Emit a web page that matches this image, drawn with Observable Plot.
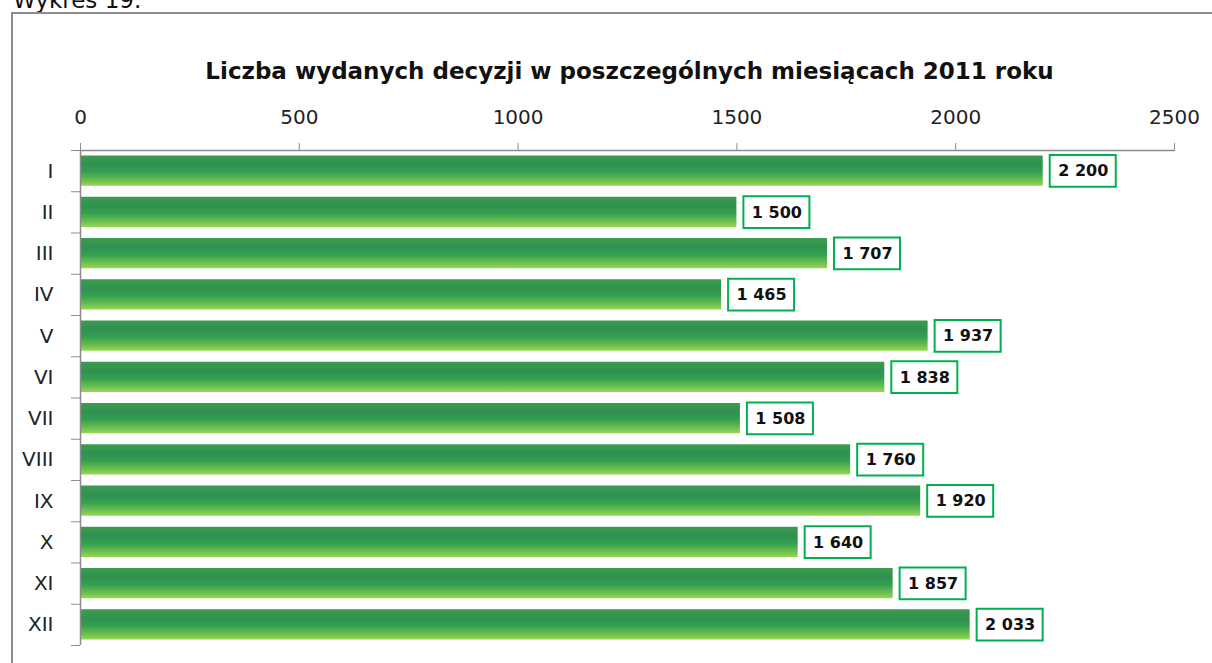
<!DOCTYPE html>
<html>
<head>
<meta charset="utf-8">
<script src="https://cdn.jsdelivr.net/npm/d3@7"></script>
<script src="https://cdn.jsdelivr.net/npm/@observablehq/plot@0.6"></script>
<style>
  html, body { margin: 0; padding: 0; background: #fff; overflow: hidden; }
  body { width: 1212px; height: 663px; position: relative; font-family: "DejaVu Sans", Verdana, sans-serif; }
  #caption { position: absolute; left: 13px; top: -11px; font-size: 23px; line-height: 23px; color: #111; white-space: nowrap; }
  #frame { position: absolute; left: 11px; top: 12px; width: 1300px; height: 800px; border-left: 2px solid #8c8c8c; border-top: 2px solid #8c8c8c; }
  #title { position: absolute; left: 0; width: 1259px; top: 57px; text-align: center; font-size: 23px; font-weight: bold; color: #111; white-space: nowrap; line-height: 28px; }
  #chart { position: absolute; left: 0; top: 0; }
</style>
</head>
<body>
<div id="caption">Wykres 19.</div>
<div id="frame"></div>
<div id="title">Liczba wydanych decyzji w poszczególnych miesiącach 2011 roku</div>
<div id="chart"></div>
<script>
const months = ["I", "II", "III", "IV", "V", "VI", "VII", "VIII", "IX", "X", "XI", "XII"];
const values = [2200, 1500, 1707, 1465, 1937, 1838, 1508, 1760, 1920, 1640, 1857, 2033];
const xTicks = [0, 500, 1000, 1500, 2000, 2500];

const data = months.map((m, i) => ({month: m, value: values[i], i}));
const fmt = d3.formatLocale({thousands: "\u00a0", grouping: [3], decimal: ","}).format(",");
const BAR = "#2f9553";

const plot = Plot.plot({
  width: 1212,
  height: 663,
  marginLeft: 80,
  marginRight: 38,
  marginTop: 150,
  marginBottom: 18,
  style: {background: "transparent", fontFamily: "DejaVu Sans, Verdana, sans-serif", color: "#222"},
  x: {domain: [0, 2500], label: null},
  y: {domain: [0, 12], reverse: true, label: null},
  marks: [
    Plot.rectX(data, {x1: 0, x2: "value", y1: "i", y2: d => d.i + 1, insetTop: 5.5, insetBottom: 5.5, fill: BAR}),
    Plot.rectX(data, {x1: "value", x2: "value", y1: "i", y2: d => d.i + 1, insetTop: 5, insetBottom: 4.5, insetLeft: 7, insetRight: -73, fill: "white", stroke: "#00b050", strokeWidth: 2}),
    Plot.text(data, {x: "value", y: d => d.i + 0.5, text: d => fmt(d.value), dx: 40, fontSize: 16, fontWeight: "bold", fill: "#111"}),
    Plot.ruleY([0], {stroke: "#8c8c8c", strokeWidth: 1.5}),
    Plot.ruleX([0], {stroke: "#8c8c8c", strokeWidth: 1.5}),
    Plot.axisX({anchor: "top", label: null, ticks: xTicks, tickSize: 8, tickPadding: 19, fontSize: 20, stroke: "#8c8c8c", fill: "#222", tickFormat: d => String(d)}),
    Plot.axisY({anchor: "left", label: null, ticks: d3.range(13), tickSize: 9, tickFormat: () => "", stroke: "#8c8c8c"}),
    Plot.axisY({anchor: "left", label: null, ticks: data.map(d => d.i + 0.5), tickSize: 0, tickPadding: 27, fontSize: 20, fill: "#222", tickFormat: v => months[Math.floor(v)]})
  ]
});

const ns = "http://www.w3.org/2000/svg";
const defs = document.createElementNS(ns, "defs");
const grad = document.createElementNS(ns, "linearGradient");
grad.setAttribute("id", "barGrad");
grad.setAttribute("x1", "0"); grad.setAttribute("y1", "0");
grad.setAttribute("x2", "0"); grad.setAttribute("y2", "1");
[[0, "#3c9c4f"], [0.3, "#2e9150"], [0.55, "#34a04f"], [0.82, "#6cbf4f"], [1, "#98d755"]].forEach(([o, c]) => {
  const s = document.createElementNS(ns, "stop");
  s.setAttribute("offset", o);
  s.setAttribute("stop-color", c);
  grad.appendChild(s);
});
defs.appendChild(grad);
plot.insertBefore(defs, plot.firstChild);
plot.querySelectorAll(`[fill="${BAR}"]`).forEach(el => el.setAttribute("fill", "url(#barGrad)"));

document.getElementById("chart").appendChild(plot);
</script>
</body>
</html>
